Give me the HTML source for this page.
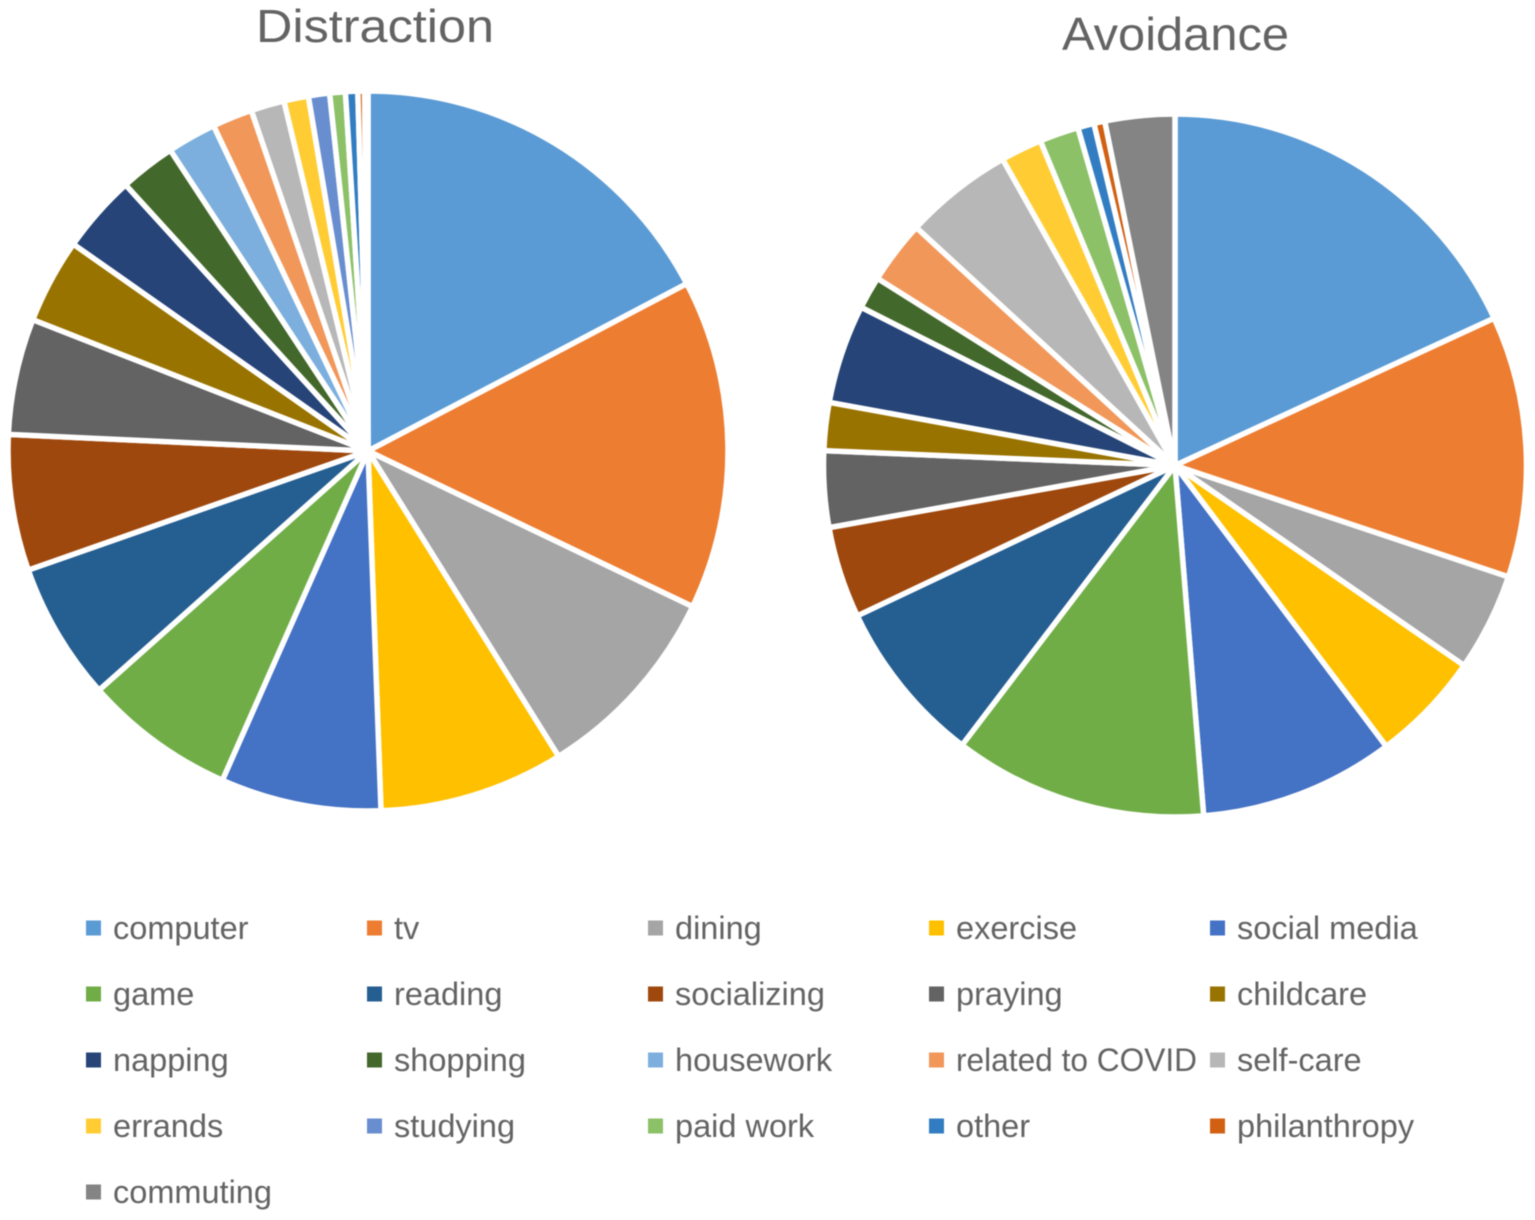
<!DOCTYPE html>
<html lang="en">
<head>
<meta charset="utf-8">
<title>Distraction and Avoidance pie charts</title>
<style>
  html, body { margin: 0; padding: 0; background: #ffffff; }
  body { width: 1535px; height: 1220px; overflow: hidden; }
  #chart { display: block; filter: blur(0.6px); }
  text { font-family: "Liberation Sans", sans-serif; fill: #636363; }
</style>
</head>
<body>
<svg id="chart" xmlns="http://www.w3.org/2000/svg" width="1535" height="1220" viewBox="0 0 1535 1220">
  <text x="256" y="42" font-size="46" textLength="238" lengthAdjust="spacingAndGlyphs">Distraction</text>
  <text x="1062" y="50" font-size="46" textLength="227" lengthAdjust="spacingAndGlyphs">Avoidance</text>
  <g id="distraction-pie"></g>
  <g id="avoidance-pie"></g>
  <g id="legend"></g>
</svg>
<script>
const categories = ["computer","tv","dining","exercise","social media","game","reading","socializing","praying","childcare","napping","shopping","housework","related to COVID","self-care","errands","studying","paid work","other","philanthropy","commuting"];
const distractionValues = [17.3,14.8,9.0,8.3,7.2,6.8,6.2,6.1,5.2,3.8,3.5,2.5,2.2,1.8,1.5,1.1,0.95,0.7,0.55,0.3,0.15];
const avoidanceValues = [18.1,12.0,4.5,5.1,8.95,11.65,7.6,4.2,3.5,2.2,4.55,1.5,0,2.9,5.0,1.9,0,1.8,0.75,0.5,3.2];
const sliceColors = ["#5B9BD5","#ED7D31","#A5A5A5","#FFC000","#4472C4","#70AD47","#255E91","#9E480E","#636363","#997300","#264478","#43682B","#7CAFDD","#F1975A","#B7B7B7","#FFCD33","#698ED0","#8CC168","#327DC2","#D26012","#848484"];

const SVG_NS = "http://www.w3.org/2000/svg";

function angleScale(values) {
  const total = values.reduce((a, b) => a + b, 0);
  return v => (v / total) * Math.PI * 2;
}

function drawPie(groupId, values, cx, cy, r) {
  const group = document.getElementById(groupId);
  const scale = angleScale(values);
  let start = 0;
  values.forEach((value, i) => {
    const sweep = scale(value);
    const end = start + sweep;
    if (value > 0) {
      const x1 = cx + r * Math.sin(start);
      const y1 = cy - r * Math.cos(start);
      const x2 = cx + r * Math.sin(end);
      const y2 = cy - r * Math.cos(end);
      const large = sweep > Math.PI ? 1 : 0;
      const path = document.createElementNS(SVG_NS, "path");
      path.setAttribute("d", `M${cx} ${cy}L${x1.toFixed(2)} ${y1.toFixed(2)}A${r} ${r} 0 ${large} 1 ${x2.toFixed(2)} ${y2.toFixed(2)}Z`);
      path.setAttribute("fill", sliceColors[i]);
      path.setAttribute("stroke", "#ffffff");
      path.setAttribute("stroke-width", "5.5");
      path.setAttribute("stroke-linejoin", "round");
      
      
      const tip = document.createElementNS(SVG_NS, "title");
      tip.textContent = categories[i] + ": " + value + "%";
      path.appendChild(tip);
      group.appendChild(path);
    }
    start = end;
  });
}

function drawLegend() {
  const legend = document.getElementById("legend");
  const columns = 5;
  const maxLabelWidth = 241;
  categories.forEach((name, i) => {
    const col = i % columns;
    const row = Math.floor(i / columns);
    const left = 86 + col * 281;
    const centerY = 928.5 + row * 66;

    const entry = document.createElementNS(SVG_NS, "g");
    
    

    const swatch = document.createElementNS(SVG_NS, "rect");
    swatch.setAttribute("x", left);
    swatch.setAttribute("y", centerY - 8);
    swatch.setAttribute("width", 15);
    swatch.setAttribute("height", 15);
    swatch.setAttribute("fill", sliceColors[i]);
    
    
    entry.appendChild(swatch);

    const label = document.createElementNS(SVG_NS, "text");
    label.setAttribute("x", left + 27);
    label.setAttribute("y", centerY + 10.5);
    label.setAttribute("font-size", "32.5");
    label.textContent = name;
    
    
    entry.appendChild(label);

    legend.appendChild(entry);
    if (label.getComputedTextLength() > maxLabelWidth) {
      label.setAttribute("textLength", maxLabelWidth);
      label.setAttribute("lengthAdjust", "spacingAndGlyphs");
    }
  });
}

drawPie("distraction-pie", distractionValues, 368, 451, 360);
drawPie("avoidance-pie", avoidanceValues, 1175, 465.5, 351.5);
drawLegend();
</script>
</body>
</html>
